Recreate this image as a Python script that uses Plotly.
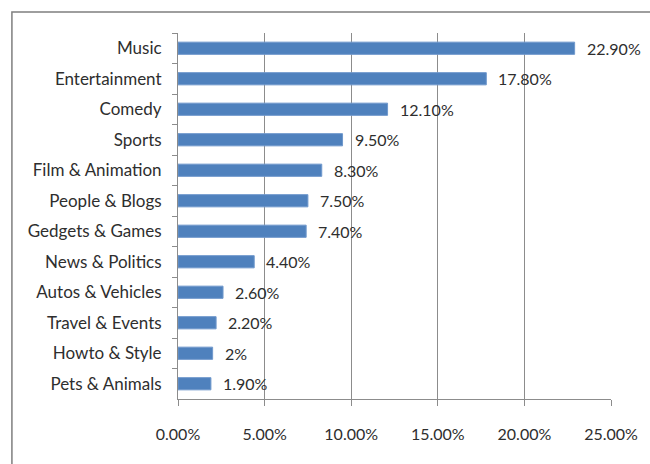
import plotly.graph_objects as go

# YouTube category shares (percent)
categories = ["Music", "Entertainment", "Comedy", "Sports", "Film & Animation",
              "People & Blogs", "Gedgets & Games", "News & Politics",
              "Autos & Vehicles", "Travel & Events", "Howto & Style", "Pets & Animals"]
shares = [22.9, 17.8, 12.1, 9.5, 8.3, 7.5, 7.4, 4.4, 2.6, 2.2, 2.0, 1.9]
share_labels = ["22.90%", "17.80%", "12.10%", "9.50%", "8.30%", "7.50%", "7.40%",
                "4.40%", "2.60%", "2.20%", "2%", "1.90%"]
x_ticks = [0, 5, 10, 15, 20, 25]
x_tick_labels = ["0.00%", "5.00%", "10.00%", "15.00%", "20.00%", "25.00%"]

BAR = "#4F81BD"
GRID = "#8c8c8c"
TEXT = "#2e2e2e"
FONT = "Lato"

fig = go.Figure()
fig.add_trace(go.Bar(
    x=shares, y=categories, orientation="h",
    marker=dict(color=BAR, line=dict(color="#6f98cc", width=1)),
    width=0.4, hoverinfo="skip",
))

# value labels to the right of each bar
for v, c, t in zip(shares, categories, share_labels):
    fig.add_annotation(x=v, y=c, text=t, showarrow=False, xanchor="left",
                       xshift=10, font=dict(family=FONT, size=16, color=TEXT))

L, R, T, B = 178, 616, 33, 399
W, H = 650, 464
pw, ph = R - L, B - T

# outer chart frame (top and left edges visible)
fig.add_shape(type="rect", xref="paper", yref="paper",
              x0=(10 - L) / pw, x1=(662 - L) / pw,
              y0=(B - 476) / ph, y1=(B - 12) / ph,
              line=dict(color="#7f7f7f", width=1.5), fillcolor="rgba(0,0,0,0)",
              layer="below")

fig.update_layout(
    width=W, height=H,
    margin=dict(l=L, r=W - R, t=T, b=H - B),
    paper_bgcolor="white", plot_bgcolor="white",
    showlegend=False,
    font=dict(family=FONT, size=16, color=TEXT),
    xaxis=dict(range=[0, 25], tickvals=x_ticks, ticktext=x_tick_labels,
               showgrid=True, gridcolor=GRID, gridwidth=1,
               showline=True, linecolor=GRID, linewidth=1,
               ticks="outside", ticklen=6, tickcolor=GRID,
               ticklabelstandoff=15, zeroline=False,
               tickfont=dict(family=FONT, size=16, color=TEXT)),
    yaxis=dict(categoryorder="array", categoryarray=categories,
               autorange="reversed", showgrid=False,
               showline=True, linecolor=GRID, linewidth=1,
               ticks="outside", ticklen=5, tickcolor=GRID,
               tickson="boundaries", ticklabelstandoff=12,
               tickfont=dict(family=FONT, size=17, color=TEXT)),
)

fig.write_html("out.html")
